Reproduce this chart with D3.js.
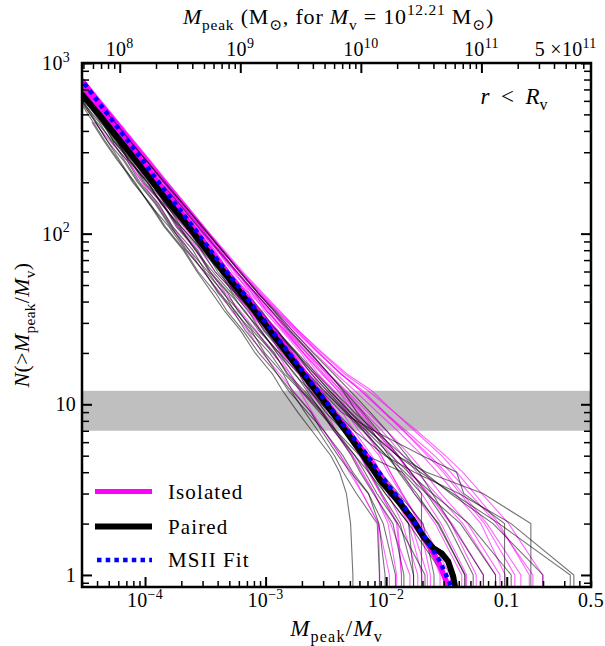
<!DOCTYPE html>
<html><head><meta charset="utf-8">
<script src="https://cdn.jsdelivr.net/npm/d3@7"></script>
<style>
body{margin:0;background:#fff}
svg{display:block}
</style>
</head><body>
<svg id="c" width="605" height="646"></svg>
<script>
// ---------------- DATA ----------------
// Levels of N(>Mpeak/Mv) at which each thin curve is sampled
const Nlev = [800,600,450,350,270,200,150,110,80,60,45,35,27,20,15,12,9,7,5,4,3,2,1];

// Isolated hosts (magenta thin): log10(Mpeak/Mv) at each level (null = not reached)
const isolatedLogX = [
  [-4.519,-4.375,-4.24,-4.113,-3.992,-3.843,-3.697,-3.552,-3.383,-3.24,-3.095,-2.958,-2.817,-2.657,-2.482,-2.339,-2.184,-2.036,-1.859,-1.746,-1.587,-1.364,-1.093],
  [-4.529,-4.385,-4.26,-4.163,-4.022,-3.913,-3.757,-3.642,-3.473,-3.37,-3.215,-3.128,-2.987,-2.877,-2.722,-2.649,-2.494,-2.416,-2.279,-2.206,-2.097,-1.984,-1.913],
  [-4.509,-4.375,-4.23,-4.103,-3.972,-3.833,-3.687,-3.522,-3.363,-3.21,-3.055,-2.908,-2.757,-2.567,-2.372,-2.189,-2.014,-1.856,-1.659,-1.526,-1.387,-1.184,-0.933],
  [-4.529,-4.405,-4.25,-4.143,-4.002,-3.873,-3.717,-3.582,-3.403,-3.28,-3.115,-3.008,-2.867,-2.707,-2.582,-2.449,-2.324,-2.186,-2.039,-1.966,-1.867,-1.724,-1.633],
  [-4.519,-4.375,-4.23,-4.113,-3.982,-3.823,-3.677,-3.532,-3.363,-3.22,-3.065,-2.928,-2.777,-2.597,-2.412,-2.259,-2.074,-1.906,-1.699,-1.576,-1.427,-1.214,-1.013],
  [-4.529,-4.395,-4.28,-4.153,-4.052,-3.893,-3.787,-3.622,-3.483,-3.32,-3.205,-3.058,-2.957,-2.787,-2.672,-2.539,-2.424,-2.296,-2.159,-2.086,-1.987,-1.864,-1.738],
  [-4.509,-4.365,-4.22,-4.093,-3.962,-3.813,-3.667,-3.512,-3.343,-3.19,-3.025,-2.878,-2.727,-2.527,-2.322,-2.119,-1.934,-1.766,-1.539,-1.416,-1.267,-1.064,-0.813],
  [-4.539,-4.425,-4.31,-4.213,-4.102,-3.983,-3.857,-3.722,-3.583,-3.46,-3.335,-3.208,-3.077,-2.947,-2.792,-2.699,-2.544,-2.436,-2.279,-2.196,-2.097,-1.964,-1.803],
  [-4.519,-4.385,-4.24,-4.113,-4.002,-3.843,-3.697,-3.562,-3.393,-3.25,-3.095,-2.988,-2.837,-2.667,-2.512,-2.369,-2.204,-2.096,-1.909,-1.796,-1.657,-1.464,-1.253],
  [-4.529,-4.385,-4.24,-4.133,-3.992,-3.843,-3.717,-3.542,-3.403,-3.24,-3.115,-2.968,-2.857,-2.687,-2.562,-2.429,-2.304,-2.166,-2.039,-1.966,-1.867,-1.714,-1.553],
  [-4.509,-4.365,-4.22,-4.093,-3.962,-3.813,-3.667,-3.512,-3.353,-3.2,-3.035,-2.888,-2.727,-2.537,-2.342,-2.149,-1.934,-1.746,-1.509,-1.366,-1.207,-0.984,-0.703],
  [-4.539,-4.395,-4.25,-4.153,-4.012,-3.883,-3.727,-3.602,-3.423,-3.31,-3.145,-3.048,-2.897,-2.777,-2.612,-2.529,-2.364,-2.266,-2.119,-2.046,-1.947,-1.814,-1.703],
  [-4.519,-4.375,-4.23,-4.103,-3.972,-3.823,-3.687,-3.522,-3.363,-3.21,-3.055,-2.908,-2.747,-2.557,-2.372,-2.209,-2.014,-1.836,-1.599,-1.466,-1.307,-1.084,-0.783],
  [-4.529,-4.385,-4.24,-4.123,-3.992,-3.843,-3.707,-3.542,-3.403,-3.25,-3.095,-2.988,-2.837,-2.687,-2.522,-2.399,-2.274,-2.126,-1.949,-1.866,-1.767,-1.594,-1.373],
  [null,null,-4.42,-4.293,-4.152,-4.023,-3.857,-3.722,-3.543,-3.42,-3.255,-3.148,-2.997,-2.867,-2.712,-2.619,-2.454,-2.356,-2.219,-2.146,-2.047,-1.914,-1.873],
  [-4.519,-4.385,-4.24,-4.113,-3.992,-3.843,-3.697,-3.552,-3.383,-3.24,-3.085,-2.948,-2.827,-2.657,-2.492,-2.379,-2.214,-2.076,-1.899,-1.816,-1.707,-1.544,-1.333],
  [-4.539,-4.435,-4.33,-4.233,-4.142,-4.023,-3.897,-3.772,-3.633,-3.52,-3.375,-3.278,-3.147,-3.027,-2.882,-2.769,-2.624,-2.516,-2.379,-2.286,-2.197,-2.064,-1.973],
  [-4.509,-4.375,-4.23,-4.103,-3.972,-3.823,-3.677,-3.522,-3.353,-3.21,-3.045,-2.898,-2.737,-2.557,-2.372,-2.209,-2.024,-1.856,-1.639,-1.506,-1.367,-1.164,-0.883],
  [-4.529,-4.405,-4.26,-4.163,-4.032,-3.913,-3.767,-3.642,-3.483,-3.34,-3.185,-3.078,-2.927,-2.797,-2.642,-2.549,-2.434,-2.336,-2.209,-2.146,-2.047,-1.904,-1.873],
  [-4.519,-4.395,-4.27,-4.143,-4.042,-3.893,-3.777,-3.622,-3.503,-3.36,-3.255,-3.128,-3.037,-2.907,-2.792,-2.719,-2.614,-2.516,-2.379,-2.306,-2.197,-2.064,-2.053],
  [-4.519,-4.395,-4.24,-4.133,-3.992,-3.863,-3.707,-3.572,-3.403,-3.26,-3.135,-2.988,-2.847,-2.687,-2.532,-2.399,-2.234,-2.096,-1.909,-1.796,-1.647,-1.454,-1.195],
  [-4.529,-4.385,-4.26,-4.123,-4.012,-3.853,-3.727,-3.562,-3.423,-3.3,-3.145,-3.038,-2.897,-2.767,-2.612,-2.489,-2.334,-2.226,-2.059,-1.986,-1.877,-1.704,-1.469],
  [-4.509,-4.385,-4.23,-4.123,-3.982,-3.853,-3.697,-3.542,-3.373,-3.25,-3.085,-2.948,-2.797,-2.627,-2.472,-2.329,-2.154,-1.996,-1.799,-1.686,-1.547,-1.324,-1.056],
  [null,-4.445,-4.33,-4.203,-4.102,-3.953,-3.837,-3.682,-3.513,-3.37,-3.255,-3.108,-2.967,-2.837,-2.672,-2.549,-2.424,-2.326,-2.139,-2.066,-1.967,-1.794,-1.658]
];

// Paired hosts (grey thin)
const pairedLogX = [
  [-4.579,-4.435,-4.29,-4.163,-4.022,-3.873,-3.717,-3.562,-3.393,-3.24,-3.085,-2.948,-2.807,-2.637,-2.472,-2.349,-2.194,-2.066,-1.899,-1.796,-1.667,-1.494,-1.278],
  [-4.609,-4.495,-4.35,-4.263,-4.122,-4.013,-3.857,-3.742,-3.573,-3.47,-3.315,-3.228,-3.087,-2.927,-2.822,-2.699,-2.534,-2.436,-2.259,-2.176,-2.077,-1.904,-1.678],
  [-4.559,-4.415,-4.26,-4.133,-3.992,-3.843,-3.687,-3.532,-3.363,-3.22,-3.065,-2.918,-2.777,-2.607,-2.432,-2.299,-2.134,-1.996,-1.829,-1.726,-1.617,-1.464,-1.193],
  [-4.629,-4.525,-4.41,-4.313,-4.212,-4.093,-3.967,-3.842,-3.683,-3.57,-3.445,-3.338,-3.207,-3.087,-2.942,-2.859,-2.734,-2.616,-2.459,-2.386,-2.33,-2.295,-2.276],
  [null,-4.495,-4.37,-4.233,-4.142,-3.983,-3.827,-3.702,-3.523,-3.37,-3.245,-3.098,-2.947,-2.827,-2.652,-2.519,-2.334,-2.166,-1.959,-1.816,-1.617,-1.314,-0.963],
  [null,null,-4.44,-4.343,-4.232,-4.083,-3.967,-3.802,-3.663,-3.51,-3.385,-3.248,-3.137,-2.967,-2.842,-2.709,-2.554,-2.416,-2.259,-2.146,-2.007,-1.814,-1.773],
  [-4.589,-4.465,-4.32,-4.223,-4.072,-3.953,-3.787,-3.662,-3.483,-3.37,-3.205,-3.108,-2.957,-2.797,-2.672,-2.539,-2.374,-2.1,-1.7,-1.416,-1.357,-1.018,null],
  [-4.599,-4.475,-4.36,-4.233,-4.132,-3.973,-3.867,-3.702,-3.533,-3.42,-3.255,-3.118,-3.007,-2.837,-2.682,-2.589,-2.414,-2.266,-2.009,-1.766,-1.397,-0.964,-0.443],
  [-4.559,-4.435,-4.28,-4.183,-4.032,-3.913,-3.747,-3.622,-3.443,-3.33,-3.165,-3.028,-2.917,-2.747,-2.592,-2.469,-2.294,-2.136,-1.909,-1.666,-1.197,-0.8,null],
  [-4.639,-4.525,-4.38,-4.283,-4.152,-4.043,-3.887,-3.772,-3.603,-3.5,-3.345,-3.258,-3.117,-3.007,-2.852,-2.779,-2.624,-2.536,-2.399,-2.296,-2.147,-2.06,-2.009],
  [-4.569,-4.425,-4.31,-4.173,-4.082,-3.923,-3.817,-3.652,-3.533,-3.38,-3.275,-3.138,-3.047,-2.887,-2.722,-2.639,-2.474,-2.336,-2.159,-2.046,-1.897,-1.694,-1.603],
  [-4.619,-4.495,-4.34,-4.253,-4.112,-4.003,-3.847,-3.732,-3.563,-3.46,-3.305,-3.168,-3.057,-2.887,-2.762,-2.629,-2.504,-2.356,-2.159,-1.866,-1.707,null,null],
  [-4.549,-4.405,-4.25,-4.123,-3.992,-3.833,-3.687,-3.522,-3.363,-3.21,-3.065,-2.928,-2.797,-2.627,-2.472,-2.359,-2.244,-2.116,-1.979,-1.896,-1.767,-1.564,-1.347],
  [-4.649,-4.535,-4.41,-4.313,-4.182,-4.063,-3.917,-3.792,-3.633,-3.48,-3.355,-3.218,-3.107,-2.937,-2.812,-2.679,-2.524,-2.416,-2.219,-2.116,-2.007,-1.814,-1.523],
  [-4.579,-4.435,-4.32,-4.183,-4.092,-3.933,-3.827,-3.662,-3.493,-3.38,-3.215,-3.078,-2.967,-2.797,-2.642,-2.509,-2.344,-2.196,-1.999,-1.846,-1.667,-1.384,-1.093],
  [-4.659,-4.545,-4.43,-4.333,-4.222,-4.103,-3.957,-3.832,-3.673,-3.56,-3.415,-3.318,-3.187,-3.057,-2.902,-2.809,-2.654,-2.516,-2.359,-2.276,-2.147,-2.024,-1.923],
  [-4.569,-4.445,-4.3,-4.203,-4.052,-3.933,-3.767,-3.642,-3.463,-3.31,-3.185,-3.038,-2.927,-2.757,-2.592,-2.469,-2.304,-2.146,-1.909,-1.716,-1.447,-1.064,-0.473],
  [-4.609,-4.485,-4.33,-4.243,-4.102,-3.943,-3.837,-3.672,-3.503,-3.4,-3.245,-3.108,-3.017,-2.857,-2.702,-2.629,-2.474,-2.336,-2.209,-2.136,-2.037,-1.884,-1.773],
  [-4.589,-4.465,-4.31,-4.183,-4.072,-3.913,-3.767,-3.642,-3.463,-3.32,-3.165,-3.058,-2.907,-2.747,-2.622,-2.489,-2.324,-2.186,-1.999,-1.886,-1.747,-1.574,-1.347],
  [-4.619,-4.505,-4.36,-4.263,-4.132,-3.983,-3.867,-3.712,-3.583,-3.44,-3.285,-3.178,-3.037,-2.907,-2.752,-2.659,-2.534,-2.426,-2.289,-2.216,-2.107,-1.944,-1.853],
  [-4.569,-4.455,-4.31,-4.213,-4.082,-3.923,-3.797,-3.632,-3.493,-3.34,-3.185,-3.048,-2.907,-2.737,-2.572,-2.439,-2.264,-2.096,-1.859,-1.686,-1.467,-1.114,-0.699],
  [-4.639,-4.515,-4.4,-4.273,-4.172,-4.053,-3.907,-3.782,-3.653,-3.51,-3.395,-3.268,-3.167,-3.017,-2.902,-2.789,-2.674,-2.566,-2.429,-2.356,-2.247,-2.074,-2.056]
];

// Mean curves (x = Mpeak/Mv, N)
const isoMeanX = [2.63e-5,4.6e-5,8.2e-5,1.42e-4,2.47e-4,4.0e-4,6.5e-4,1.02e-3,1.58e-3,2.3e-3,3.3e-3,4.8e-3,6.9e-3,9.9e-3,0.0128,0.0163,0.021,0.027,0.033];
const isoMeanN = [850,500,300,180,110,70,45,30,20,14,10,7,5,3.45,2.75,2.1,1.61,1.2,0.85];

const pairMeanX = [2.75e-5,4.15e-5,7.4e-5,1.3e-4,2.3e-4,3.75e-4,6.2e-4,9.7e-4,1.5e-3,2.2e-3,3.2e-3,4.6e-3,6.5e-3,8.9e-3,0.013,0.0167,0.0203,0.0245,0.0288,0.0327,0.036,0.0373];
const pairMeanN = [700,500,300,180,110,70,45,30,20,14,10,7,5,3.6,2.63,2.1,1.68,1.44,1.34,1.2,0.98,0.85];

const fitX = [2.3e-5,3.0e-5,4.9e-5,8.5e-5,1.45e-4,2.5e-4,4.0e-4,6.5e-4,1.01e-3,1.56e-3,2.28e-3,3.3e-3,4.8e-3,7.0e-3,0.0101,0.013,0.01675,0.0216,0.0279,0.0337,0.0345];
const fitN = [1000,790,500,300,180,110,70,45,30,20,14,10,7,5,3.45,2.75,2.1,1.61,1.2,0.895,0.85];

// Grey band in N
const bandN = [7, 12];

// Axes
const xDomain = [3e-5, 0.5];
const yDomain = [0.85, 1000];
const logMv = 12.21;
const xTickVals = [1e-4, 1e-3, 1e-2, 0.1, 0.5];
const xTickLabels = [["10","−4"],["10","−3"],["10","−2"],["0.1",""],["0.5",""]];
const topTickVals = [1e8, 1e9, 1e10, 1e11, 5e11];
const topTickLabels = [["10","8"],["10","9"],["10","10"],["10","11"],["5 ×10","11"]];
const yTickVals = [1, 10, 100, 1000];
const yTickLabels = [["1",""],["10",""],["10","2"],["10","3"]];

const legendLabels = ["Isolated", "Paired", "MSII Fit"];

// ---------------- DRAW ----------------
const FONT = "'Liberation Serif', 'DejaVu Serif', 'Times New Roman', serif";
const L = 82, R = 591, T = 63, B = 587;
const svg = d3.select("#c").attr("font-family", FONT);
const x = d3.scaleLog().domain(xDomain).range([L, R]);
const y = d3.scaleLog().domain(yDomain).range([B, T]);
const xTop = d3.scaleLog().domain(xDomain.map(v => v * Math.pow(10, logMv))).range([L, R]);

svg.append("defs").append("clipPath").attr("id", "clip")
  .append("rect").attr("x", L).attr("y", T).attr("width", R - L).attr("height", B - T);

const plot = svg.append("g").attr("clip-path", "url(#clip)");

plot.append("rect").attr("x", L).attr("width", R - L)
  .attr("y", y(bandN[1])).attr("height", y(bandN[0]) - y(bandN[1]))
  .attr("fill", "#bfbfbf");

const line = d3.line().x(d => x(d[0])).y(d => y(d[1]));

function hostPts(arr) {
  const pts = [];
  arr.forEach((v, i) => { if (v != null) pts.push([Math.pow(10, v), Nlev[i]]); });
  const last = pts[pts.length - 1];
  pts.push([last[0], 0.3]);
  return pts;
}

plot.append("g").selectAll("path").data(isolatedLogX).join("path")
  .attr("d", d => line(hostPts(d)))
  .attr("fill", "none").attr("stroke", "#ff00ff").attr("stroke-opacity", 0.6)
  .attr("stroke-width", 1.1);

plot.append("g").selectAll("path").data(pairedLogX).join("path")
  .attr("d", d => line(hostPts(d)))
  .attr("fill", "none").attr("stroke", "#000").attr("stroke-opacity", 0.55)
  .attr("stroke-width", 1.1);

const zip = (a, b) => a.map((v, i) => [v, b[i]]);

plot.append("path").attr("d", line(zip(isoMeanX, isoMeanN)))
  .attr("fill", "none").attr("stroke", "#ff00ff").attr("stroke-width", 5.5).attr("stroke-linejoin", "round");
plot.append("path").attr("d", line(zip(pairMeanX, pairMeanN)))
  .attr("fill", "none").attr("stroke", "#000").attr("stroke-width", 6).attr("stroke-linejoin", "round");
plot.append("path").attr("d", line(zip(fitX, fitN)))
  .attr("fill", "none").attr("stroke", "#0000ff").attr("stroke-width", 4.5)
  .attr("stroke-dasharray", "4.5,4.2");

// ---------- axes / ticks ----------
function minors(lo, hi) {
  const out = [];
  for (let d = Math.floor(Math.log10(lo)) - 1; d <= Math.ceil(Math.log10(hi)); d++)
    for (let k = 2; k <= 9; k++) { const v = k * Math.pow(10, d); if (v >= lo && v <= hi) out.push(v); }
  return out;
}
const xMajors = [1e-4, 1e-3, 1e-2, 0.1];
const topMajors = [1e8, 1e9, 1e10, 1e11];

function tickAxis(axisFn, scale, vals, size, tr, w) {
  const g = svg.append("g").attr("transform", tr)
    .call(axisFn(scale).tickValues(vals).tickSize(-size).tickFormat(""));
  g.select(".domain").remove();
  g.selectAll(".tick line").attr("stroke", "#000").attr("stroke-width", w);
  return g;
}
tickAxis(d3.axisBottom, x, xMajors, 10, `translate(0,${B})`, 2);
tickAxis(d3.axisBottom, x, minors(xDomain[0], xDomain[1]), 6, `translate(0,${B})`, 1.5);
tickAxis(d3.axisTop, xTop, topMajors, 10, `translate(0,${T})`, 2);
tickAxis(d3.axisTop, xTop, minors(xTop.domain()[0], xTop.domain()[1]), 6, `translate(0,${T})`, 1.5);
tickAxis(d3.axisLeft, y, yTickVals, 10, `translate(${L},0)`, 2);
tickAxis(d3.axisLeft, y, minors(yDomain[0], yDomain[1]), 7, `translate(${L},0)`, 1.5);
tickAxis(d3.axisRight, y, yTickVals, 10, `translate(${R},0)`, 2);
tickAxis(d3.axisRight, y, minors(yDomain[0], yDomain[1]), 7, `translate(${R},0)`, 1.5);

svg.append("rect").attr("x", L).attr("y", T).attr("width", R - L).attr("height", B - T)
  .attr("fill", "none").attr("stroke", "#000").attr("stroke-width", 2.5);

// ---------- text helper ----------
function rich(g, px, py, parts, fs, anchor, ls) {
  const t = g.append("text").attr("x", px).attr("y", py).attr("font-size", fs)
    .attr("font-family", FONT).attr("fill", "#000").style("white-space", "pre")
    .attr("letter-spacing", ls || 0)
    .attr("text-anchor", anchor || "start");
  let cur = 0;
  parts.forEach(([s, opt]) => {
    if (s === "") return;
    opt = opt || "";
    let sh = 0, size = fs;
    if (opt.includes("b")) { sh = 0.28 * fs; size = 0.7 * fs; }
    if (opt.includes("p")) { sh = -0.42 * fs; size = 0.7 * fs; }
    const ts = t.append("tspan").text(s).attr("font-size", size).attr("dy", sh - cur);
    if (opt.includes("i")) ts.attr("font-style", "italic");
    cur = sh;
  });
  return t;
}

xTickVals.forEach((v, i) => {
  const [b, s] = xTickLabels[i];
  rich(svg, x(v), 607, [[b, ""], [s, "p"]], 20, "middle", 0.3);
});
topTickVals.forEach((v, i) => {
  const [b, s] = topTickLabels[i];
  rich(svg, xTop(v), 56, [[b, ""], [s, "p"]], 20, "middle", 0.3);
});
yTickVals.forEach((v, i) => {
  const [b, s] = yTickLabels[i];
  rich(svg, s ? 70 : 76, y(v) + 7, [[b, ""], [s, "p"]], 20, "end", 0.3);
});

rich(svg, (L + R) / 2 + 2, 24, [["M","i"],["peak","b"],[" (M",""],["⊙","b"],[", for ",""],["M","i"],["v","b"],[" = 10",""],["12.21","p"],[" M",""],["⊙","b"],[")",""]], 22, "middle", 0.8);
rich(svg, (L + R) / 2, 636, [["M","i"],["peak","b"],["/",""],["M","i"],["v","b"]], 23, "middle", 1.2);
const yl = svg.append("g").attr("transform", `translate(29,${(T + B) / 2}) rotate(-90)`);
rich(yl, 0, 0, [["N","i"],["(>",""],["M","i"],["peak","b"],["/",""],["M","i"],["v","b"],[")",""]], 22, "middle", 0.3);

rich(svg, 514, 104, [["r","i"],["  <  ",""],["R","i"],["v","b"]], 23, "middle");

// ---------- legend ----------
const lg = svg.append("g");
const legY = [491.5, 526.5, 560];
const legStyles = [
  {c: "#ff00ff", w: 5, dash: null},
  {c: "#000", w: 6, dash: null},
  {c: "#0000ff", w: 4.5, dash: "4.5,4.2"}
];
legendLabels.forEach((lab, i) => {
  const st = legStyles[i];
  const ln = lg.append("line").attr("x1", 95).attr("x2", 152).attr("y1", legY[i]).attr("y2", legY[i])
    .attr("stroke", st.c).attr("stroke-width", st.w);
  if (st.dash) ln.attr("stroke-dasharray", st.dash).attr("x1", 97);
  rich(lg, 168, legY[i] + 7, [[lab, ""]], 21, "start", 1.1);
});
</script>
</body></html>
